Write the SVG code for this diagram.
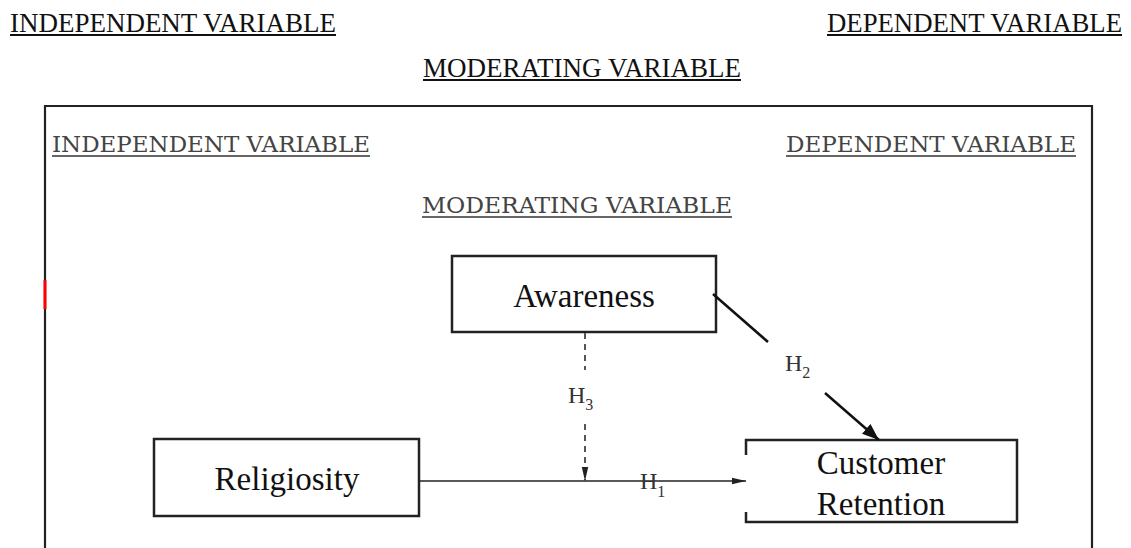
<svg xmlns="http://www.w3.org/2000/svg" width="1131" height="548" viewBox="0 0 1131 548">
<style>
.top{font-family:"Liberation Serif","Times New Roman",serif;font-size:26.4px;fill:#111}
.inner{font-family:"DejaVu Serif",serif;font-size:22px;fill:#444}
.ul{stroke:#111;stroke-width:2}
.uli{stroke:#333;stroke-width:1.6}
.box{fill:#fff;stroke:#222;stroke-width:2.5}
.lbl{font-family:"Liberation Serif","Times New Roman",serif;font-size:33px;fill:#111;text-anchor:middle}
.h{font-family:"Liberation Serif","Times New Roman",serif;font-size:24px;fill:#333}
.sub{font-size:16px}
.frame{fill:none;stroke:#222;stroke-width:2.2}
</style>
<defs>
<marker id="arrS" markerUnits="userSpaceOnUse" markerWidth="14" markerHeight="8" refX="14" refY="4" orient="auto">
<path d="M0,0.8 L14,4 L0,7.2 z" fill="#222"/>
</marker>
<marker id="arrL" markerUnits="userSpaceOnUse" markerWidth="17" markerHeight="13" refX="17" refY="6.5" orient="auto">
<path d="M0,0 L17,6.5 L0,13 z" fill="#111"/>
</marker>
</defs>

<g id="header">
<text class="top" x="10" y="32" textLength="326" lengthAdjust="spacingAndGlyphs">INDEPENDENT VARIABLE</text>
<line class="ul" x1="10" y1="35" x2="336" y2="35"/>
<text class="top" x="827" y="32" textLength="295" lengthAdjust="spacingAndGlyphs">DEPENDENT VARIABLE</text>
<line class="ul" x1="827" y1="35" x2="1122" y2="35"/>
<text class="top" x="423" y="77" textLength="318" lengthAdjust="spacingAndGlyphs">MODERATING VARIABLE</text>
<line class="ul" x1="423" y1="80" x2="741" y2="80"/>
</g>

<g id="frame">
<path class="frame" d="M45,549 V106 H1092 V549"/>
<line x1="45" y1="280" x2="45" y2="309" stroke="#ff0000" stroke-width="3"/>
</g>

<g id="inner-labels">
<text class="inner" x="52" y="152" textLength="318" lengthAdjust="spacingAndGlyphs">INDEPENDENT VARIABLE</text>
<line class="uli" x1="52" y1="156" x2="370" y2="156"/>
<text class="inner" x="786" y="152" textLength="290" lengthAdjust="spacingAndGlyphs">DEPENDENT VARIABLE</text>
<line class="uli" x1="786" y1="156" x2="1076" y2="156"/>
<text class="inner" x="422" y="213" textLength="310" lengthAdjust="spacingAndGlyphs">MODERATING VARIABLE</text>
<line class="uli" x1="422" y1="217" x2="732" y2="217"/>
</g>

<g id="awareness">
<rect class="box" x="452" y="256" width="264" height="76"/>
<text class="lbl" x="584" y="307">Awareness</text>
</g>

<g id="religiosity">
<rect class="box" x="154" y="439" width="265" height="77"/>
<text class="lbl" x="287" y="490">Religiosity</text>
</g>

<g id="customer-retention">
<path class="box" fill="none" d="M746,455 V440 H1017 V522 H746 V512"/>
<text class="lbl" x="881" y="474">Customer</text>
<text class="lbl" x="881" y="515">Retention</text>
</g>

<g id="connectors">
<path d="M419,481 H746" fill="none" stroke="#222" stroke-width="1.6" marker-end="url(#arrS)"/>
<path d="M585,333 V370" fill="none" stroke="#555" stroke-width="2" stroke-dasharray="6,5"/>
<path d="M585,424 V481" fill="none" stroke="#555" stroke-width="2" stroke-dasharray="6,5" marker-end="url(#arrS)"/>
<path d="M713,294 L768,342" fill="none" stroke="#111" stroke-width="2.5"/>
<path d="M825,393 L879,440" fill="none" stroke="#111" stroke-width="2.5" marker-end="url(#arrL)"/>
<text class="h" x="568" y="403">H<tspan class="sub" dy="7">3</tspan></text>
<text class="h" x="785" y="371">H<tspan class="sub" dy="7">2</tspan></text>
<text class="h" x="640" y="489">H<tspan class="sub" dy="8">1</tspan></text>
</g>
</svg>
